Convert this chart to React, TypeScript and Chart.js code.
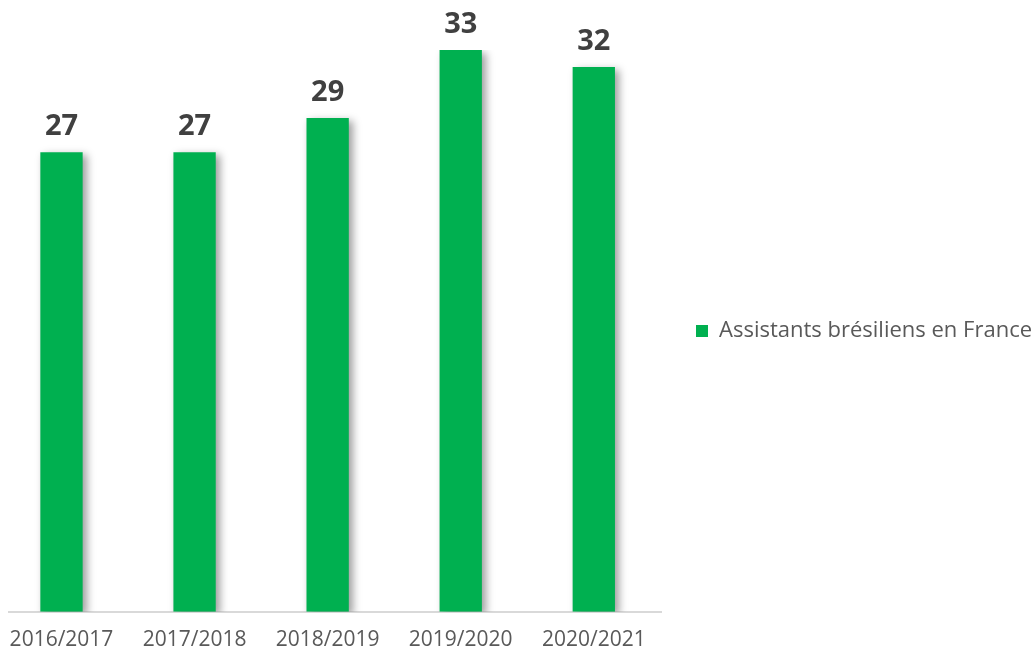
import React, { useEffect, useRef } from "react";
import { Chart, registerables } from "chart.js";

Chart.register(...registerables);

const categories = ["2016/2017", "2017/2018", "2018/2019", "2019/2020", "2020/2021"];
const seriesName = "Assistants brésiliens en France";
const values = [27, 27, 29, 33, 32];

const GREEN = "#00B050";
const FONT = "'Open Sans', 'Noto Sans', sans-serif";

const labelShadowPlugin = {
  id: "labelShadow",
  beforeDatasetsDraw(chart: any) {
    const ctx = chart.ctx;
    ctx.save();
    ctx.shadowColor = "rgba(0,0,0,0.38)";
    ctx.shadowBlur = 8;
    ctx.shadowOffsetX = 4;
    ctx.shadowOffsetY = 3;
  },
  afterDatasetsDraw(chart: any) {
    const ctx = chart.ctx;
    ctx.restore();
    ctx.save();
    ctx.font = `bold 29px ${FONT}`;
    ctx.fillStyle = "#404040";
    ctx.textAlign = "center";
    ctx.textBaseline = "alphabetic";
    const meta = chart.getDatasetMeta(0);
    meta.data.forEach((bar: any, i: number) => {
      ctx.fillText(String(values[i]), bar.x, bar.y - 17);
    });
    ctx.restore();
  },
};

export default function App() {
  const ref = useRef<HTMLCanvasElement | null>(null);

  useEffect(() => {
    if (!ref.current) return;
    const chart = new Chart(ref.current, {
      type: "bar",
      data: {
        datasets: [
          {
            label: seriesName,
            data: values.map((v, i) => ({ x: i, y: v })),
            backgroundColor: GREEN,
            borderWidth: 0,
            categoryPercentage: 1,
            barPercentage: 0.318,
          },
        ],
      },
      options: {
        animation: false,
        responsive: true,
        maintainAspectRatio: false,
        layout: { padding: { left: 9, top: 50, right: 0, bottom: -15 } },
        plugins: {
          legend: {
            position: "right",
            fullSize: false,
            maxWidth: 371,
            labels: {
              boxWidth: 12,
              boxHeight: 12,
              padding: 35,
              color: "#595959",
              font: { family: FONT, size: 22 },
            },
          },
          tooltip: { enabled: false },
        },
        scales: {
          x: {
            type: "linear",
            offset: false,
            min: -0.3945,
            max: 4.505,
            afterBuildTicks(scale: any) {
              scale.ticks = categories.map((_, i) => ({ value: i }));
            },
            afterFit(scale: any) {
              scale.paddingLeft = 0;
              scale.paddingRight = 0;
            },
            ticks: {
              padding: 16,
              color: "#595959",
              font: { family: FONT, size: 21 },
              callback: (v: any) => categories[v] ?? "",
              maxRotation: 0,
              autoSkip: false,
            },
            grid: { display: false, drawTicks: false, offset: false },
            border: { display: true, color: "#D9D9D9", width: 2 },
          },
          y: {
            display: false,
            min: 0,
            max: 33,
          },
        },
      },
      plugins: [labelShadowPlugin],
    });
    return () => chart.destroy();
  }, []);

  return (
    <div style={{ position: "fixed", left: 0, top: 0, width: 1032, height: 654, overflow: "hidden" }}>
      <canvas ref={ref} />
    </div>
  );
}
